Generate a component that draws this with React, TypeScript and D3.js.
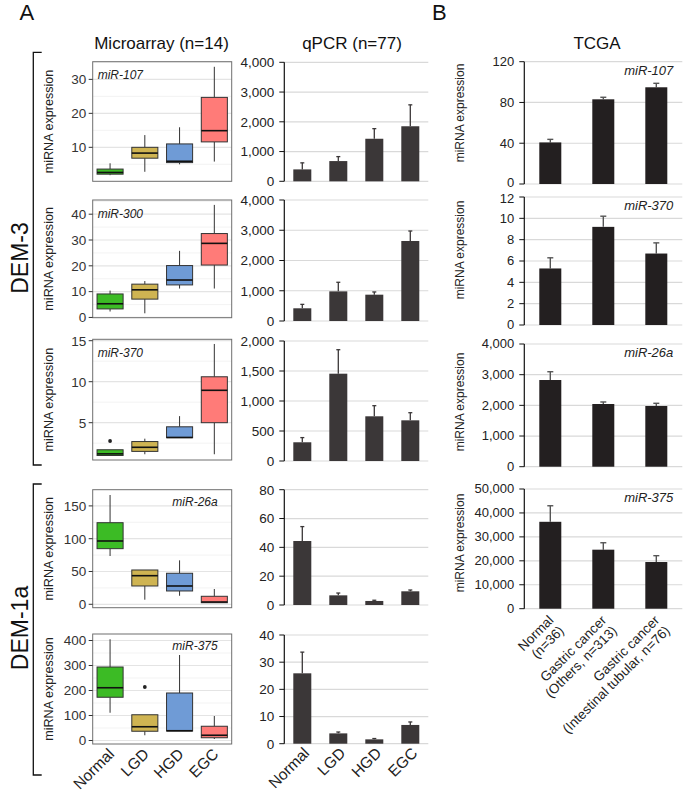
import * as d3 from "d3";

const FONT = "'Liberation Sans', Arial, Helvetica, sans-serif";

// groups
const groups = ["Normal", "LGD", "HGD", "EGC"];
const tcgaGroups = ["Normal", "Others", "Intestinal"];
const tcgaLabels = [
  ["Normal", "(n=36)"],
  ["Gastric cancer", "(Others, n=313)"],
  ["Gastric cancer", "(Intestinal tubular, n=76)"],
];
const boxColors = ["#3cbb25", "#cfb452", "#6f9bd6", "#ff7b78"];

// microarray boxplots: [low whisker, q1, median, q3, high whisker] per group
const ma107 = [[1.8, 2.1, 2.6, 3.6, 5.3], [2.8, 6.8, 8.3, 10, 13.6], [5.0, 5.5, 5.9, 11, 15.9], [5.8, 11.6, 14.9, 24.7, 33.7]];
const ma300 = [[2.3, 3.3, 5.3, 9.1, 10.4], [1.6, 7.1, 10.7, 12.9, 14.1], [11.2, 12.6, 14.5, 20.1, 25.8], [11.2, 20.3, 28.7, 32.5, 43.6]];
const ma370 = [[1.0, 1.0, 1.2, 1.7, 1.7], [1.15, 1.5, 2.0, 2.7, 3.05], [3.17, 3.17, 3.2, 4.5, 5.8], [1.15, 5.0, 8.95, 10.6, 14.6]];
const ma26a = [[73.6, 84.8, 96.5, 124.4, 166.6], [7, 27.9, 43.6, 52.3, 52.3], [13, 20.3, 27.9, 47.3, 67], [2, 2.4, 3.5, 12.2, 23.3]];
const ma375 = [[111, 173, 211, 294, 405], [21, 37, 55, 103, 103], [38, 38, 39, 190, 342], [6, 11, 21, 57, 98]];
const ma107Out: number[][] = [[], [], [], []];
const ma300Out: number[][] = [[], [], [], []];
const ma370Out = [[2.77], [], [], []];
const ma26aOut: number[][] = [[], [], [], []];
const ma375Out = [[], [214], [], []];

const ma107Ticks = [10, 20, 30];
const ma300Ticks = [0, 10, 20, 30, 40];
const ma370Ticks = [5, 10, 15];
const ma26aTicks = [0, 50, 100, 150];
const ma375Ticks = [0, 100, 200, 300, 400];

// qPCR means and error (upper bar)
const q107 = [400, 680, 1430, 1850];
const q107Err = [220, 150, 340, 720];
const q300 = [420, 980, 870, 2645];
const q300Err = [130, 300, 90, 330];
const q370 = [312, 1455, 745, 678];
const q370Err = [78, 400, 177, 127];
const q26a = [44.4, 6.7, 2.8, 9.5];
const q26aErr = [10, 1.6, 0.5, 0.9];
const q375 = [25.9, 3.8, 1.6, 6.9];
const q375Err = [7.8, 0.5, 0.3, 1.1];
const q107Ticks = [0, 1000, 2000, 3000, 4000];
const q300Ticks = [0, 1000, 2000, 3000, 4000];
const q370Ticks = [0, 500, 1000, 1500, 2000];
const q26aTicks = [0, 20, 40, 60, 80];
const q375Ticks = [0, 10, 20, 30, 40];

// TCGA means and error
const t107 = [40.8, 83.1, 94.9];
const t107Err = [3, 2, 3.9];
const t370 = [5.3, 9.2, 6.7];
const t370Err = [1.0, 1.0, 1.0];
const t26a = [2826, 2044, 1979];
const t26aErr = [270, 66, 88];
const t375 = [36300, 24650, 19500];
const t375Err = [6700, 2900, 2650];
const t107Ticks = [0, 40, 80, 120];
const t370Ticks = [0, 2, 4, 6, 8, 10, 12];
const t26aTicks = [0, 1000, 2000, 3000, 4000];
const t375Ticks = [0, 10000, 20000, 30000, 40000, 50000];

const fmt = d3.format(",");

const MA_L = 92.7;
const MA_R = 231.7;

function BoxPanel({ gene, stats, out, top, bottom, domain, ticks, left }: any) {
  const y = d3.scaleLinear().domain(domain).range([bottom, top]);
  const x = d3.scaleBand().domain(groups).range([MA_L, MA_R]).paddingInner(0.25).paddingOuter(0.125);
  const step = ticks[1] - ticks[0];
  const minor = [ticks[0] - step / 2, ...ticks.map((t: number) => t + step / 2)].filter(
    (t) => t > domain[0] && t < domain[1]
  );
  return (
    <g>
      <rect x={MA_L} y={top} width={MA_R - MA_L} height={bottom - top} fill="white" />
      {minor.map((t) => (
        <line key={"m" + t} x1={MA_L} x2={MA_R} y1={y(t)} y2={y(t)} stroke="#f0f0f0" strokeWidth={0.8} />
      ))}
      {ticks.map((t: number) => (
        <line key={"g" + t} x1={MA_L} x2={MA_R} y1={y(t)} y2={y(t)} stroke="#e4e4e4" strokeWidth={1.2} />
      ))}
      {stats.map((s: number[], i: number) => {
        const x0 = x(groups[i])!;
        const w = x.bandwidth();
        const cx = x0 + w / 2;
        return (
          <g key={i}>
            <line x1={cx} x2={cx} y1={y(s[3])} y2={y(s[4])} stroke="#333" strokeWidth={1} />
            <line x1={cx} x2={cx} y1={y(s[1])} y2={y(s[0])} stroke="#333" strokeWidth={1} />
            <rect x={x0} y={y(s[3])} width={w} height={y(s[1]) - y(s[3])} fill={boxColors[i]} stroke="#333" strokeWidth={1} />
            <line x1={x0} x2={x0 + w} y1={y(s[2])} y2={y(s[2])} stroke="#111" strokeWidth={1.6} />
            {out[i].map((o: number, j: number) => (
              <circle key={j} cx={cx} cy={y(o)} r={1.9} fill="#222" />
            ))}
          </g>
        );
      })}
      <rect x={MA_L} y={top} width={MA_R - MA_L} height={bottom - top} fill="none" stroke="#6e6e6e" strokeWidth={1} />
      {ticks.map((t: number) => (
        <g key={"t" + t}>
          <line x1={MA_L - 4} x2={MA_L} y1={y(t)} y2={y(t)} stroke="#333" strokeWidth={1} />
          <text x={MA_L - 6.5} y={y(t)} dy="0.36em" textAnchor="end" fontSize={13.5} fill="#333">
            {t}
          </text>
        </g>
      ))}
      <text
        x={left ? MA_L + 5 : MA_R - 14}
        y={top + (left ? 17.5 : 16)}
        textAnchor={left ? "start" : "end"}
        fontSize={12}
        fontStyle="italic"
        fill="#222"
      >
        {gene}
      </text>
      <text
        transform={`translate(52.5,${(top + bottom) / 2}) rotate(-90)`}
        textAnchor="middle"
        fontSize={12.6}
        fill="#222"
      >
        miRNA expression
      </text>
    </g>
  );
}

const Q_L = 284.3;
const Q_R = 428.3;

function QBar({ vals, errs, ticks, zero, topPx }: any) {
  const y = d3.scaleLinear().domain([0, ticks[ticks.length - 1]]).range([zero, topPx]);
  const x = d3.scaleBand().domain(groups).range([Q_L, Q_R]).paddingInner(0.5).paddingOuter(0.25);
  return (
    <g>
      {ticks.map((t: number) => (
        <g key={t}>
          <line x1={Q_L} x2={Q_R} y1={y(t)} y2={y(t)} stroke="#d9d9d9" strokeWidth={1.2} />
          <line x1={Q_L - 5} x2={Q_L} y1={y(t)} y2={y(t)} stroke="#111" strokeWidth={1} />
          <text x={Q_L - 10} y={y(t)} dy="0.36em" textAnchor="end" fontSize={13.5} fill="#222">
            {fmt(t)}
          </text>
        </g>
      ))}
      {vals.map((v: number, i: number) => {
        const x0 = x(groups[i])!;
        const cx = x0 + x.bandwidth() / 2;
        const yt = y(v + errs[i]);
        return (
          <g key={i}>
            <line x1={cx} x2={cx} y1={y(v)} y2={yt} stroke="#3b3738" strokeWidth={1.3} />
            <line x1={cx - 2} x2={cx + 2} y1={yt} y2={yt} stroke="#3b3738" strokeWidth={1.3} />
            <rect x={x0} y={y(v)} width={x.bandwidth()} height={zero - y(v)} fill="#3b3738" />
          </g>
        );
      })}
      <line x1={Q_L} x2={Q_L} y1={topPx} y2={zero} stroke="#111" strokeWidth={1.2} />
    </g>
  );
}

const T_L = 524.3;
const T_R = 682.3;

function TBar({ gene, vals, errs, ticks, zero, topPx, labelY, zeroShift = 0, topShift = 0 }: any) {
  const y = d3.scaleLinear().domain([0, ticks[ticks.length - 1]]).range([zero, topPx]);
  const x = d3.scaleBand().domain(tcgaGroups).range([T_L, T_R]).paddingInner(0.585).paddingOuter(0.283);
  const last = ticks[ticks.length - 1];
  return (
    <g>
      {ticks.map((t: number) => (
        <g key={t}>
          <line x1={T_L} x2={T_R} y1={y(t)} y2={y(t)} stroke="#d9d9d9" strokeWidth={1.2} />
          <line x1={T_L - 5} x2={T_L} y1={y(t)} y2={y(t)} stroke="#111" strokeWidth={1} />
          <text
            x={T_L - 10}
            y={y(t) + (t === 0 ? zeroShift : t === last ? topShift : 0)}
            dy="0.34em"
            textAnchor="end"
            fontSize={13}
            fill="#222"
          >
            {fmt(t)}
          </text>
        </g>
      ))}
      {vals.map((v: number, i: number) => {
        const x0 = x(tcgaGroups[i])!;
        const cx = x0 + x.bandwidth() / 2;
        const yt = y(v + errs[i]);
        return (
          <g key={i}>
            <line x1={cx} x2={cx} y1={y(v)} y2={yt} stroke="#555" strokeWidth={1.4} />
            <line x1={cx - 3} x2={cx + 3} y1={yt} y2={yt} stroke="#555" strokeWidth={1.4} />
            <rect x={x0} y={y(v)} width={x.bandwidth()} height={zero - y(v)} fill="#231f20" />
          </g>
        );
      })}
      <line x1={T_L} x2={T_L} y1={topPx} y2={zero} stroke="#111" strokeWidth={1.2} />
      <text x={T_R - 9} y={topPx + 13} textAnchor="end" fontSize={13} fontStyle="italic" fill="#222">
        {gene}
      </text>
      <text transform={`translate(463.5,${labelY}) rotate(-90)`} textAnchor="middle" fontSize={12} fill="#222">
        miRNA expression
      </text>
    </g>
  );
}

export default function App() {
  const xMa = d3.scaleBand().domain(groups).range([MA_L, MA_R]).paddingInner(0.25).paddingOuter(0.125);
  const xQ = d3.scaleBand().domain(groups).range([Q_L, Q_R]).paddingInner(0.5).paddingOuter(0.25);
  const xT = d3.scaleBand().domain(tcgaGroups).range([T_L, T_R]).paddingInner(0.585).paddingOuter(0.283);
  return (
    <svg
      width={685}
      height={793}
      viewBox="0 0 685 793"
      style={{ position: "absolute", left: 0, top: 0, background: "white" }}
      fontFamily={FONT}
    >
      <text x={19.5} y={20} fontSize={22} fill="#111">A</text>
      <text x={432} y={20} fontSize={22} fill="#111">B</text>

      <text x={161.5} y={48.5} textAnchor="middle" fontSize={17} fill="#111">Microarray (n=14)</text>
      <text x={352} y={48.5} textAnchor="middle" fontSize={17} fill="#111">qPCR (n=77)</text>
      <text x={597} y={48.5} textAnchor="middle" fontSize={17} fill="#111">TCGA</text>

      {/* brackets */}
      <path d="M41.7,52.3 H33.3 V465 H41.7" fill="none" stroke="#111" strokeWidth={1.3} />
      <path d="M41.7,484 H33.3 V775 H41.7" fill="none" stroke="#111" strokeWidth={1.3} />
      <text transform="translate(27.5,258) rotate(-90)" textAnchor="middle" fontSize={23} fill="#111">DEM-3</text>
      <text transform="translate(27.5,628) rotate(-90)" textAnchor="middle" fontSize={23} fill="#111">DEM-1a</text>

      <BoxPanel gene="miR-107" stats={ma107} out={ma107Out} top={61.7} bottom={181.3} domain={[0, 35.2]} ticks={ma107Ticks} left />
      <BoxPanel gene="miR-300" stats={ma300} out={ma300Out} top={200} bottom={317.7} domain={[-0.1, 45.5]} ticks={ma300Ticks} left />
      <BoxPanel gene="miR-370" stats={ma370} out={ma370Out} top={339.3} bottom={460} domain={[0.45, 15.17]} ticks={ma370Ticks} left />
      <BoxPanel gene="miR-26a" stats={ma26a} out={ma26aOut} top={489.7} bottom={607.7} domain={[-5.2, 174.7]} ticks={ma26aTicks} left={false} />
      <BoxPanel gene="miR-375" stats={ma375} out={ma375Out} top={634} bottom={744} domain={[-14, 426]} ticks={ma375Ticks} left={false} />
      {groups.map((g) => (
        <text
          key={g}
          transform={`translate(${xMa(g)! + xMa.bandwidth() / 2 + 5},${755}) rotate(-45)`}
          textAnchor="end"
          fontSize={15.5}
          fill="#222"
        >
          {g}
        </text>
      ))}

      <QBar vals={q107} errs={q107Err} ticks={q107Ticks} zero={181.3} topPx={62.3} />
      <QBar vals={q300} errs={q300Err} ticks={q300Ticks} zero={321} topPx={200} />
      <QBar vals={q370} errs={q370Err} ticks={q370Ticks} zero={461} topPx={341} />
      <QBar vals={q26a} errs={q26aErr} ticks={q26aTicks} zero={605} topPx={489.7} />
      <QBar vals={q375} errs={q375Err} ticks={q375Ticks} zero={743.7} topPx={635} />
      {groups.map((g) => (
        <text
          key={g}
          transform={`translate(${xQ(g)! + xQ.bandwidth() / 2 + 8},${754}) rotate(-45)`}
          textAnchor="end"
          fontSize={15.5}
          fill="#222"
        >
          {g}
        </text>
      ))}

      <TBar gene="miR-107" vals={t107} errs={t107Err} ticks={t107Ticks} zero={184} topPx={61.7} labelY={113} zeroShift={-1.3} />
      <TBar gene="miR-370" vals={t370} errs={t370Err} ticks={t370Ticks} zero={325} topPx={197} labelY={250} topShift={1.3} />
      <TBar gene="miR-26a" vals={t26a} errs={t26aErr} ticks={t26aTicks} zero={466.7} topPx={344} labelY={402} />
      <TBar gene="miR-375" vals={t375} errs={t375Err} ticks={t375Ticks} zero={608.7} topPx={489} labelY={543} />
      {tcgaGroups.map((g, i) => (
        <text
          key={g}
          transform={`translate(${xT(g)! + xT.bandwidth() / 2 + 4},${621}) rotate(-45)`}
          textAnchor="end"
          fontSize={13.5}
          fill="#222"
        >
          <tspan x={0} dy={0}>{tcgaLabels[i][0]}</tspan>
          <tspan x={0} dy="1.1em">{tcgaLabels[i][1]}</tspan>
        </text>
      ))}
    </svg>
  );
}
